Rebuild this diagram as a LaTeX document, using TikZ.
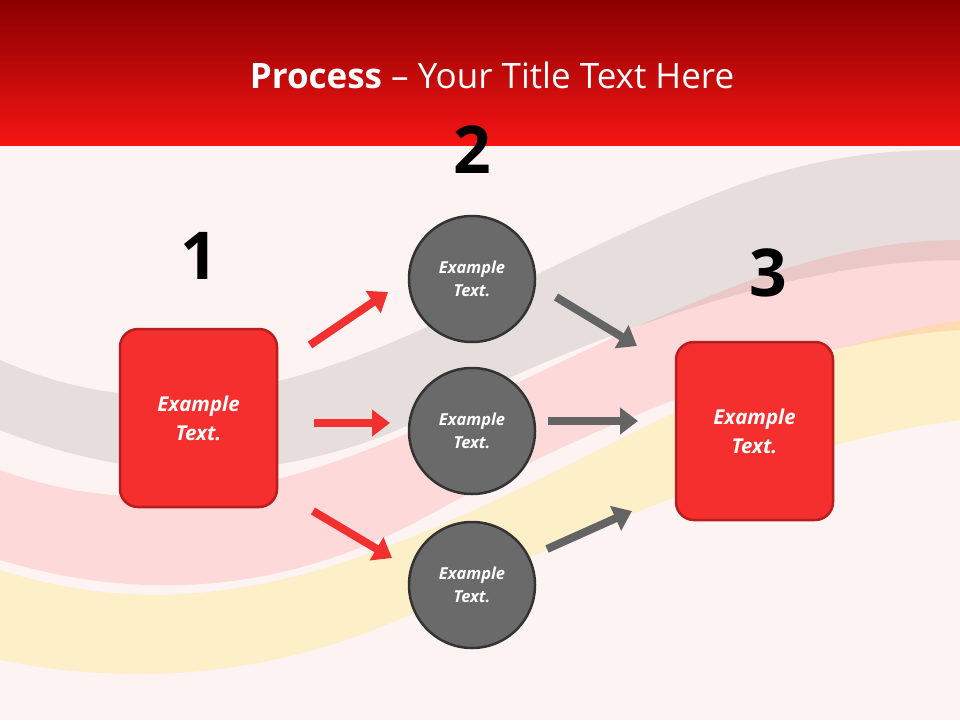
\documentclass[tikz,border=0pt]{standalone}
\usepackage{fontspec}
\setmainfont{Open Sans}
\usetikzlibrary{arrows.meta}
\definecolor{bg}{HTML}{FDF3F2}
\definecolor{boxred}{HTML}{F52E2E}
\definecolor{boxborder}{HTML}{B81E1E}
\definecolor{circ}{HTML}{6A6A6A}
\definecolor{circb}{HTML}{333333}
\definecolor{arrred}{HTML}{F23030}
\definecolor{arrgray}{HTML}{646464}
\begin{document}
\begin{tikzpicture}[x=1pt,y=-1pt,
  sq/.style={draw=boxborder,line width=2.5pt,fill=boxred,rounded corners=18pt,minimum width=157pt,minimum height=178pt,text=white,font=\fontsize{20.5}{29}\selectfont\bfseries\itshape,align=center},
  circnode/.style={circle,draw=circb,line width=2.5pt,fill=circ,minimum size=126pt,text=white,font=\fontsize{16.5}{23}\selectfont\bfseries\itshape,align=center},
  num/.style={font=\fontsize{66}{66}\selectfont\bfseries,text=black},
  redarr/.style={arrred,line width=8pt,-{Triangle[length=18pt,width=26pt]}},
  grayarr/.style={arrgray,line width=8pt,-{Triangle[length=18pt,width=26pt]}}]
\useasboundingbox (0,0) rectangle (960,720);
\fill[bg] (0,0) rectangle (960,720);
% soft waves
\fill[gray,opacity=0.18] (0,360) .. controls (250,470) and (450,300) .. (700,200) .. controls (820,150) and (900,150) .. (960,150) -- (960,260) .. controls (800,260) and (600,330) .. (420,420) .. controls (250,500) and (100,470) .. (0,430) -- cycle;
\fill[red!70,opacity=0.15] (0,470) .. controls (250,560) and (450,400) .. (700,300) .. controls (820,250) and (900,240) .. (960,240) -- (960,330) .. controls (800,340) and (600,420) .. (420,520) .. controls (250,610) and (100,590) .. (0,560) -- cycle;
\fill[yellow!80!orange,opacity=0.18] (0,570) .. controls (250,650) and (450,520) .. (700,400) .. controls (820,350) and (900,330) .. (960,320) -- (960,420) .. controls (800,440) and (600,520) .. (420,610) .. controls (250,690) and (100,680) .. (0,660) -- cycle;
% header
\shade[top color={rgb,255:red,140;green,0;blue,0},bottom color={rgb,255:red,245;green,20;blue,20}] (0,0) rectangle (960,145);
\node[text=white,font=\fontsize{35}{40}\selectfont] (title) at (492,75) {\textbf{Process} – Your Title Text Here};
% numbers
\node[num] (n1) at (199,256) {1};
\node[num] (n2) at (472,150) {2};
\node[num] (n3) at (768,273) {3};
% boxes
\node[sq] (b1) at (198.5,418) {Example\\Text.};
\node[sq] (b3) at (754.5,431) {Example\\Text.};
\node[circnode] (c1) at (472,279) {Example\\Text.};
\node[circnode] (c2) at (472,431) {Example\\Text.};
\node[circnode] (c3) at (472,585) {Example\\Text.};
% arrows
\coordinate (r1s) at (310,345); \coordinate (r1e) at (388,292);
\coordinate (r2s) at (314,423); \coordinate (r2e) at (390,423);
\coordinate (r3s) at (313,511); \coordinate (r3e) at (392,558);
\coordinate (g1s) at (556,297); \coordinate (g1e) at (637,346);
\coordinate (g2s) at (548,421); \coordinate (g2e) at (638,421);
\coordinate (g3s) at (547,549); \coordinate (g3e) at (632,511);
\draw[redarr] (r1s) -- (r1e);
\draw[redarr] (r2s) -- (r2e);
\draw[redarr] (r3s) -- (r3e);
\draw[grayarr] (g1s) -- (g1e);
\draw[grayarr] (g2s) -- (g2e);
\draw[grayarr] (g3s) -- (g3e);
\end{tikzpicture}
\end{document}
